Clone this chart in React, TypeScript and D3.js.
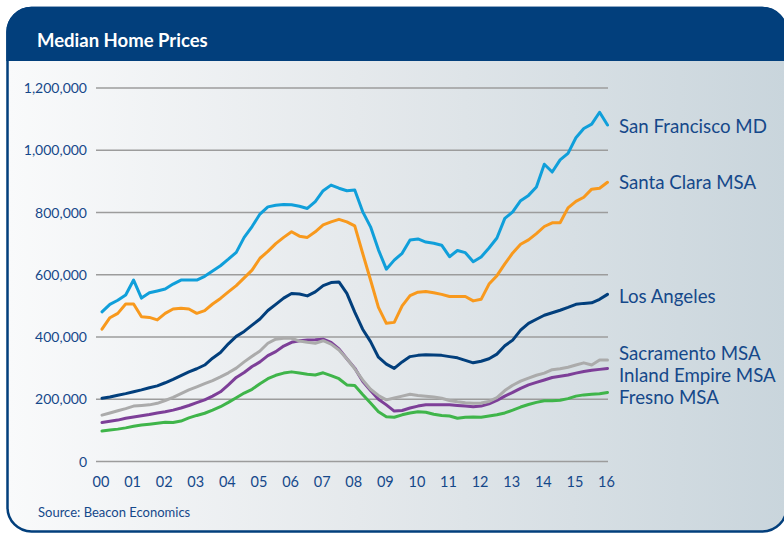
import React from "react";
import * as d3 from "d3";

const seriesNames = ["San Francisco MD", "Santa Clara MSA", "Los Angeles", "Sacramento MSA", "Inland Empire MSA", "Fresno MSA"];
const seriesColors = ["#109fda", "#f8991d", "#023f7c", "#ababab", "#7d3f98", "#3fb54a"];

// quarterly values (thousands of $), 2000Q1 .. 2016Q1
const sanFrancisco = [
  481, 505, 518, 535, 583, 525, 542, 548, 554, 570, 583, 583, 583, 595, 612, 629,
  650, 672, 720, 755, 795, 818, 823, 826, 825, 820, 813, 835, 870, 888, 878, 870,
  872, 803, 754, 680, 618, 647, 669, 712, 715, 705, 701, 695, 658, 678, 671, 642,
  657, 686, 718, 781, 802, 838, 855, 882, 955, 930, 969, 990, 1040, 1070, 1084, 1122,
  1081,
];
const santaClara = [
  425, 462, 476, 506, 506, 465, 463, 455, 476, 490, 492, 490, 476, 485, 506, 524,
  545, 565, 590, 615, 653, 675, 700, 720, 738, 724, 720, 738, 760, 770, 778, 770,
  757, 669, 583, 495, 444, 447, 500, 533, 544, 546, 542, 537, 530, 530, 530, 516,
  521, 570, 597, 635, 670, 698, 712, 732, 755, 767, 767, 815, 836, 849, 875, 878,
  897,
];
const losAngeles = [
  203, 207, 213, 218, 224, 230, 237, 243, 253, 264, 276, 288, 298, 310, 332, 350,
  378, 402, 418, 438, 458, 485, 505, 525, 540, 538, 532, 545, 565, 575, 577, 540,
  480, 425, 385, 335, 313, 299, 320, 337, 341, 343, 342, 341, 337, 333, 325, 317,
  322, 330, 345, 372, 390, 422, 444, 457, 470, 478, 486, 495, 505, 508, 510, 521,
  537,
];
const sacramento = [
  149, 156, 163, 170, 178, 180, 182, 187, 196, 206, 218, 230, 240, 250, 260, 272,
  285, 300, 320, 338, 355, 380, 393, 396, 396, 387, 383, 380, 388, 377, 358, 330,
  298, 262, 232, 212, 198, 204, 210, 216, 212, 210, 207, 203, 196, 192, 189, 187,
  188, 193, 205, 228, 245, 258, 268, 277, 284, 295, 298, 303, 310, 317, 310, 326,
  326,
];
const inlandEmpire = [
  125, 129, 133, 139, 143, 147, 151, 156, 160, 165, 172, 180, 189, 198, 210, 224,
  246, 270, 286, 305, 320, 340, 353, 371, 383, 388, 390, 391, 393, 383, 362, 330,
  300, 258, 228, 200, 182, 162, 164, 172, 178, 182, 182, 182, 182, 180, 178, 176,
  178, 185, 196, 210, 222, 235, 246, 254, 262, 270, 274, 278, 284, 289, 293, 296,
  299,
];
const fresno = [
  98, 101, 104, 108, 113, 117, 120, 123, 126, 125, 130, 140, 148, 155, 165, 176,
  190, 205, 220, 232, 250, 266, 277, 284, 288, 284, 280, 278, 285, 276, 266, 246,
  244, 215, 188, 160, 144, 142, 150, 156, 160, 158, 152, 148, 146, 139, 142, 143,
  142, 146, 150, 156, 165, 175, 183, 190, 195, 195, 197, 202, 210, 214, 216, 218,
  222,
];
const seriesValues = [sanFrancisco, santaClara, losAngeles, sacramento, inlandEmpire, fresno];
const labelBaselines = [133, 189, 303, 360, 382, 404];
const drawOrder = [0, 1, 2, 5, 4, 3];

const yTicks = [0, 200000, 400000, 600000, 800000, 1000000, 1200000];
const xTickYears = d3.range(2000, 2017);
const xTickLabels = xTickYears.map((y) => String(y % 100).padStart(2, "0"));

const FONT = "Lato, 'Open Sans', sans-serif";
const TEXT = "#15488a";

export default function App() {
  const x = d3.scaleLinear().domain([2000, 2016]).range([102, 607.5]);
  const y = d3.scaleLinear().domain([0, 1200000]).range([461.5, 88]);
  const line = d3
    .line<number>()
    .x((_, i) => x(2000 + i / 4))
    .y((v) => y(v * 1000))
    .curve(d3.curveLinear);

  return (
    <svg width={784} height={535} style={{ position: "absolute", left: 0, top: 0 }}>
      <defs>
        <linearGradient id="bg" x1="0" y1="0" x2="1" y2="0">
          <stop offset="0" stopColor="#f9fafb" />
          <stop offset="0.45" stopColor="#e5e9ec" />
          <stop offset="1" stopColor="#c9d5dc" />
        </linearGradient>
      </defs>
      <rect x={0} y={0} width={784} height={535} fill="#ffffff" />
      <rect x={7.5} y={8} width={779} height={523.5} rx={24} ry={24} fill="url(#bg)" stroke="#023f7c" strokeWidth={2.5} />
      <path d="M6.3,61 V32 A25,25 0 0 1 31.3,6.8 H762 A25,25 0 0 1 787,32 V61 Z" fill="#023f7c" />
      <text x={37} y={47} fill="#ffffff" fontFamily={FONT} fontWeight={700} fontSize={18.5}>
        Median Home Prices
      </text>

      {yTicks.map((t) => (
        <g key={t}>
          <line x1={96} x2={608} y1={y(t)} y2={y(t)} stroke="#9c9c9c" strokeWidth={1.3} />
          <text x={87} y={y(t) + 5} textAnchor="end" fill={TEXT} fontFamily={FONT} fontSize={14}>
            {d3.format(",")(t)}
          </text>
        </g>
      ))}

      {xTickYears.map((yr, i) => (
        <text key={yr} x={x(yr) - 1} y={487} textAnchor="middle" fill={TEXT} fontFamily={FONT} fontSize={14.5}>
          {xTickLabels[i]}
        </text>
      ))}

      {drawOrder.map((si) => (
        <path
          key={si}
          d={line(seriesValues[si]) || ""}
          fill="none"
          stroke={seriesColors[si]}
          strokeWidth={3}
          strokeLinejoin="round"
          strokeLinecap="round"
        />
      ))}

      {seriesNames.map((n, i) => (
        <text key={n} x={619} y={labelBaselines[i]} fill={TEXT} fontFamily={FONT} fontSize={18.7}>
          {n}
        </text>
      ))}

      <text x={38} y={517} fill={TEXT} fontFamily={FONT} fontSize={13}>
        Source: Beacon Economics
      </text>
    </svg>
  );
}
